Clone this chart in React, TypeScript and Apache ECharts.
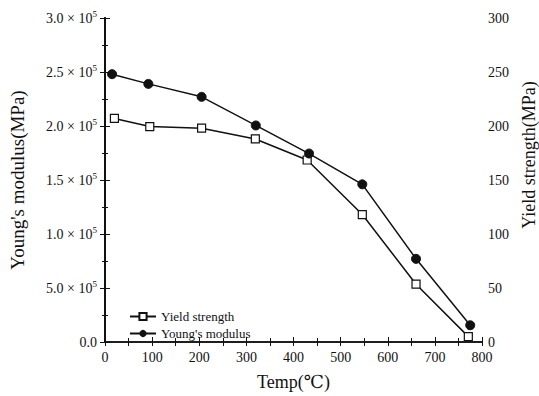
import React, { useEffect, useRef } from "react";
import * as echarts from "echarts";

const tempYoungs = [15, 92, 205, 320, 433, 546, 660, 775];
const youngsModulus = [248000, 239000, 227000, 200500, 174500, 146000, 77000, 15500];
const tempYield = [20, 95, 205, 319, 429, 546, 660, 771];
const yieldStrength = [207, 199.5, 198, 188, 168.5, 118, 53.5, 5];

const leftTickLabels: Record<number, string> = {
  0: "0.0",
  50000: "5.0",
  100000: "1.0",
  150000: "1.5",
  200000: "2.0",
  250000: "2.5",
  300000: "3.0",
};

const FONT = "'Liberation Serif', 'DejaVu Serif', serif";

export default function App() {
  const ref = useRef<HTMLDivElement>(null);
  useEffect(() => {
    if (!ref.current) return;
    const chart = echarts.init(ref.current, null, { renderer: "svg" });
    const black = "#111";
    chart.setOption({
      animation: false,
      backgroundColor: "#fff",
      textStyle: { fontFamily: FONT, color: black },
      grid: { left: 103, right: 57, top: 18, bottom: 52, containLabel: false },
      legend: {
        orient: "vertical",
        left: 124,
        top: 305,
        itemWidth: 26,
        itemHeight: 9,
        itemGap: 4,
        textStyle: { fontFamily: FONT, fontSize: 13, color: black },
        data: ["Yield strength", "Young's modulus"],
      },
      xAxis: [
        {
          type: "value",
          min: 0,
          max: 800,
          interval: 100,
          name: "Temp(℃)",
          nameLocation: "middle",
          nameGap: 31,
          nameTextStyle: { fontFamily: FONT, fontSize: 18, color: black },
          axisLine: { lineStyle: { color: black, width: 1.5 } },
          axisTick: { inside: true, length: 5, lineStyle: { color: black } },
          minorTick: { show: true, splitNumber: 2, length: 4, lineStyle: { color: black } },
          axisLabel: { fontFamily: FONT, fontSize: 14, color: black, margin: 8 },
          splitLine: { show: false },
        },
        {
          type: "value",
          position: "top",
          min: 0,
          max: 800,
          interval: 100,
          axisLine: { show: true, lineStyle: { color: black, width: 1.5 } },
          axisTick: { show: true, inside: true, length: 4, lineStyle: { color: black } },
          minorTick: { show: true, splitNumber: 2, length: 4, lineStyle: { color: black } },
          axisLabel: { show: false },
          splitLine: { show: false },
        },
      ],
      yAxis: [
        {
          type: "value",
          min: 0,
          max: 300000,
          interval: 50000,
          name: "Young's modulus(MPa)",
          nameLocation: "middle",
          nameGap: 78,
          nameRotate: 90,
          nameTextStyle: { fontFamily: FONT, fontSize: 19, color: black },
          axisLine: { show: true, lineStyle: { color: black, width: 2 } },
          axisTick: { show: true, inside: false, length: 5, lineStyle: { color: black } },
          minorTick: { show: true, splitNumber: 2, length: 3, lineStyle: { color: black } },
          axisLabel: {
            margin: 8,
            formatter: (v: number) => {
              const m = leftTickLabels[v];
              if (m === undefined) return "";
              if (v === 0) return "{a|" + m + "}";
              return "{a|" + m + " × 10}{s|5}";
            },
            rich: {
              a: { fontFamily: FONT, fontSize: 14, color: black, lineHeight: 16 },
              s: { fontFamily: FONT, fontSize: 9, color: black, padding: [0, 0, 9, 0], lineHeight: 16 },
            },
          },
          splitLine: { show: false },
        },
        {
          type: "value",
          min: 0,
          max: 300,
          interval: 50,
          position: "right",
          axisLine: { show: true, lineStyle: { color: black, width: 2 } },
          axisTick: { show: true, inside: false, length: 5, lineStyle: { color: black } },
          minorTick: { show: true, splitNumber: 2, length: 3, lineStyle: { color: black } },
          axisLabel: { fontFamily: FONT, fontSize: 14, color: black, margin: 6, lineHeight: 12 },
          splitLine: { show: false },
        },
      ],
      graphic: [
        {
          type: "text",
          x: 529,
          y: 155,
          rotation: Math.PI / 2,
          style: {
            text: "Yield strength(MPa)",
            fontFamily: FONT,
            fontSize: 18,
            fill: black,
            align: "center",
            verticalAlign: "middle",
          },
        },
      ],
      series: [
        {
          name: "Yield strength",
          type: "line",
          yAxisIndex: 1,
          data: tempYield.map((t, i) => [t, yieldStrength[i]]),
          symbol: "rect",
          symbolSize: 8,
          lineStyle: { color: black, width: 1.5 },
          itemStyle: { color: "#fff", borderColor: black, borderWidth: 1.2 },
          z: 3,
        },
        {
          name: "Young's modulus",
          type: "line",
          yAxisIndex: 0,
          data: tempYoungs.map((t, i) => [t, youngsModulus[i]]),
          symbol: "circle",
          symbolSize: 9,
          lineStyle: { color: black, width: 1.5 },
          itemStyle: { color: black, borderColor: black },
          z: 4,
        },
      ],
    });
    return () => chart.dispose();
  }, []);
  return <div ref={ref} style={{ width: 539, height: 396, position: "absolute", left: 0, top: 0 }} />;
}
